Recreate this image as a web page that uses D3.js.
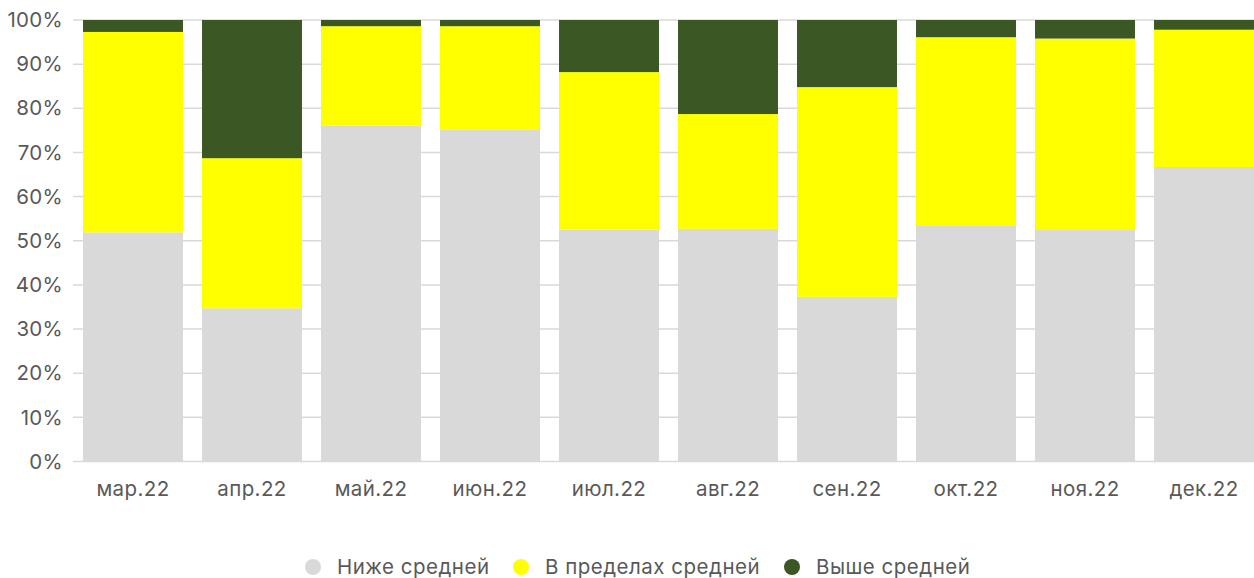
<!DOCTYPE html>
<html>
<head>
<meta charset="utf-8">
<script src="https://cdn.jsdelivr.net/npm/d3@7"></script>
<style>
  body { margin: 0; background: #fff; }
  svg { display: block; font-family: Inter, "Noto Sans", sans-serif; }
</style>
</head>
<body>
<svg id="chart" width="1254" height="578"></svg>
<script>
// months on the x axis
const months = ['мар.22', 'апр.22', 'май.22', 'июн.22', 'июл.22', 'авг.22', 'сен.22', 'окт.22', 'ноя.22', 'дек.22'];
// share of each group, %
const below  = [51.9, 34.7, 76.1, 75.1, 52.5, 52.7, 37.3, 53.5, 52.6, 66.7];
const within = [45.4, 34.0, 22.5, 23.5, 35.7, 26.0, 47.5, 42.6, 43.2, 31.1];
const above  = [2.7, 31.3, 1.4, 1.4, 11.8, 21.3, 15.2, 3.9, 4.2, 2.2];
const seriesNames = ['Ниже средней', 'В пределах средней', 'Выше средней'];
const colors = ['#d9d9d9', '#ffff00', '#3a5724'];
const yTicks = [0, 10, 20, 30, 40, 50, 60, 70, 80, 90, 100];

const svg = d3.select('#chart');
const plotTop = 20, plotBottom = 461.5, plotLeft = 73.5, plotRight = 1263.5;

const x = d3.scaleBand().domain(months).range([plotLeft, plotRight]).paddingInner(0.16).paddingOuter(0.08);
const y = d3.scaleLinear().domain([0, 100]).range([plotBottom, plotTop]);

// gridlines
svg.append('g').selectAll('line')
  .data(yTicks)
  .join('line')
  .attr('x1', 73).attr('x2', 1254)
  .attr('y1', d => y(d)).attr('y2', d => y(d))
  .attr('stroke', '#d9d9d9')
  .attr('stroke-width', 1.5);

// y labels
svg.append('g').selectAll('text')
  .data(yTicks)
  .join('text')
  .attr('x', 63)
  .attr('y', d => y(d))
  .attr('dy', '0.35em')
  .attr('text-anchor', 'end')
  .attr('fill', '#595959')
  .attr('font-size', 20.5)
  .attr('letter-spacing', 0.3)
  .text(d => d + '%');

// stacked bars
const rows = months.map((m, i) => ({ month: m, 0: below[i], 1: within[i], 2: above[i] }));
const stack = d3.stack().keys([0, 1, 2])(rows);

svg.append('g').selectAll('g')
  .data(stack)
  .join('g')
  .attr('fill', (d, i) => colors[i])
  .selectAll('rect')
  .data(d => d)
  .join('rect')
  .attr('x', d => x(d.data.month))
  .attr('width', x.bandwidth())
  .attr('y', d => y(Math.min(d[1], 100)))
  .attr('height', d => y(d[0]) - y(Math.min(d[1], 100)));

// x labels
svg.append('g').selectAll('text')
  .data(months)
  .join('text')
  .attr('x', d => x(d) + x.bandwidth() / 2)
  .attr('y', 496)
  .attr('text-anchor', 'middle')
  .attr('fill', '#595959')
  .attr('font-size', 20.5)
  .attr('letter-spacing', 0.4)
  .text(d => d);

// legend
const legendX = [313, 521, 792];
const legend = svg.append('g').selectAll('g')
  .data(seriesNames)
  .join('g')
  .attr('transform', (d, i) => `translate(${legendX[i]}, 567)`);

legend.append('circle')
  .attr('r', 8)
  .attr('fill', (d, i) => colors[i]);

legend.append('text')
  .attr('x', 24)
  .attr('dy', '0.35em')
  .attr('fill', '#595959')
  .attr('font-size', 20.5)
  .attr('letter-spacing', 0.5)
  .text(d => d);
</script>
</body>
</html>
